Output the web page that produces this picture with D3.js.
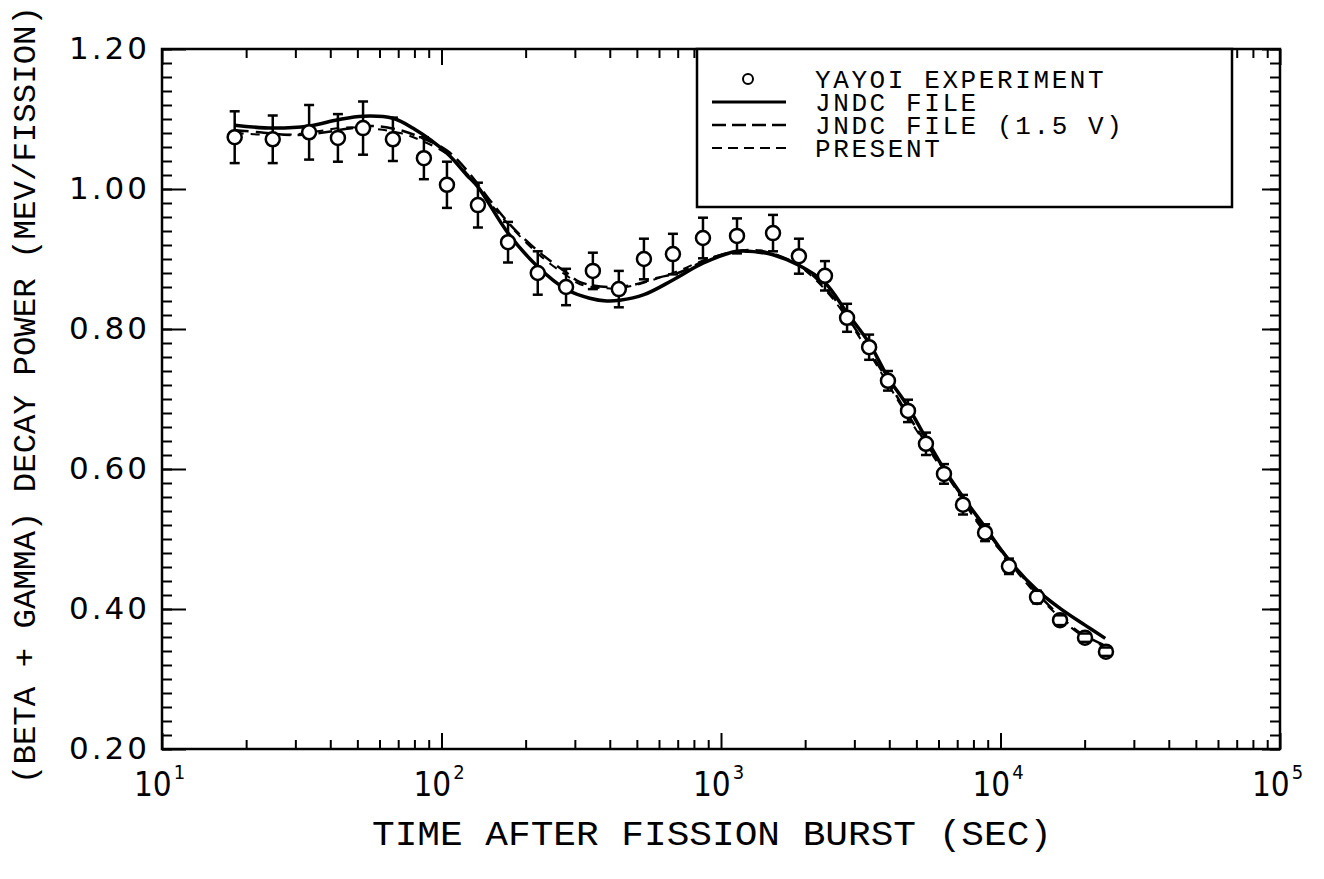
<!DOCTYPE html>
<html>
<head>
<meta charset="utf-8">
<script src="https://cdn.jsdelivr.net/npm/d3@7"></script>
<style>
  body { margin: 0; background: #fff; }
  text { fill: #000; }
</style>
</head>
<body>
<div id="chart"></div>
<script>
// YAYOI experiment points (time in sec, MeV/fission, error)
const expTime = [18.2, 24.9, 33.6, 42.6, 52.4, 67.0, 86.5, 104.6, 135, 173,
  221, 279, 348, 431, 530, 673, 862, 1141, 1535, 1900,
  2355, 2825, 3388, 3957, 4667, 5411, 6277, 7342, 8806, 10720,
  13510, 16330, 20060, 23840];
const expValue = [1.074, 1.071, 1.081, 1.073, 1.087, 1.071, 1.044, 1.006, 0.977, 0.924,
  0.880, 0.860, 0.883, 0.857, 0.900, 0.907, 0.930, 0.933, 0.937, 0.904,
  0.876, 0.816, 0.774, 0.726, 0.683, 0.636, 0.593, 0.549, 0.509, 0.461,
  0.417, 0.384, 0.359, 0.339];
const expError = [0.037, 0.034, 0.039, 0.034, 0.038, 0.031, 0.030, 0.033, 0.032, 0.029,
  0.031, 0.026, 0.026, 0.026, 0.029, 0.029, 0.029, 0.025, 0.026, 0.025,
  0.021, 0.020, 0.018, 0.014, 0.016, 0.016, 0.014, 0.014, 0.012, 0.011,
  0.009, 0.007, 0.006, 0.006];

// JNDC FILE (solid)
const jndcTime = [18.2, 24.9, 33.6, 42.6, 52.4, 67.0, 78.9, 104.6, 123, 135,
  173, 221, 281, 339, 390, 434, 530, 673, 862, 1141,
  1346, 1535, 1900, 2355, 2825, 3388, 3957, 4667, 5411, 6277,
  7342, 8806, 10720, 13510, 16330, 20060, 23700];
const jndcValue = [1.091, 1.087, 1.090, 1.099, 1.104, 1.101, 1.087, 1.051, 1.020, 1.003,
  0.937, 0.889, 0.856, 0.844, 0.840, 0.841, 0.849, 0.870, 0.894, 0.911,
  0.910, 0.906, 0.891, 0.866, 0.823, 0.780, 0.731, 0.689, 0.644, 0.600,
  0.560, 0.517, 0.470, 0.427, 0.401, 0.377, 0.358];

// JNDC FILE (1.5 V) and PRESENT (dashed)
const dashedTime = [18.2, 22.4, 29.4, 36.7, 45.9, 56.9, 71.1, 83.8, 104.6, 126,
  149, 179, 225, 281, 313, 401, 484, 590, 713, 891,
  1104, 1379, 1811, 2081, 2515, 3142, 3802, 4627, 5728, 6982,
  8240, 9956, 12740, 15920, 19240, 23280];
const jndc15Value = [1.084, 1.081, 1.077, 1.080, 1.086, 1.090, 1.084, 1.074, 1.055, 1.022,
  0.984, 0.946, 0.909, 0.880, 0.867, 0.860, 0.863, 0.873, 0.881, 0.899,
  0.910, 0.912, 0.896, 0.880, 0.846, 0.790, 0.737, 0.680, 0.622, 0.572,
  0.527, 0.487, 0.434, 0.394, 0.366, 0.349];
const presentValue = [1.080, 1.078, 1.078, 1.083, 1.088, 1.086, 1.080, 1.070, 1.050, 1.018,
  0.980, 0.944, 0.905, 0.876, 0.864, 0.858, 0.862, 0.872, 0.884, 0.900,
  0.909, 0.910, 0.895, 0.878, 0.843, 0.787, 0.733, 0.677, 0.619, 0.569,
  0.524, 0.484, 0.431, 0.392, 0.364, 0.347];

const yTicks = [0.20, 0.40, 0.60, 0.80, 1.00, 1.20];
const xDecades = [10, 100, 1000, 10000, 100000];
const legendLabels = ["YAYOI EXPERIMENT", "JNDC FILE", "JNDC FILE (1.5 V)", "PRESENT"];

const width = 1324, height = 879;
const pLeft = 162, pRight = 1280, pTop = 49, pBottom = 749;
const monoFont = "'Liberation Mono', 'DejaVu Sans Mono', monospace";

const x = d3.scaleLog().domain([10, 100000]).range([pLeft, pRight]);
const y = d3.scaleLinear().domain([0.2, 1.2]).range([pBottom, pTop]);

const svg = d3.select("#chart").append("svg")
  .attr("width", width)
  .attr("height", height);

// minor ticks
let xMinor = [];
xDecades.slice(0, -1).forEach(d => { for (let k = 2; k <= 9; k++) xMinor.push(d * k); });
let yMinor = d3.range(0.2, 1.2001, 0.02).map(v => +v.toFixed(2));

function styleAxis(g) {
  g.select(".domain").remove();
  g.selectAll(".tick line").attr("stroke", "#000").attr("stroke-width", 2);
}

// bottom
svg.append("g").attr("transform", `translate(0,${pBottom})`)
  .call(d3.axisBottom(x).tickValues(xMinor).tickSize(-9).tickFormat("")).call(styleAxis);
let xAxisG = svg.append("g").attr("transform", `translate(0,${pBottom})`)
  .call(d3.axisBottom(x).tickValues(xDecades).tickSize(-16).tickPadding(22).tickFormat(() => "10"))
  .call(styleAxis);
xAxisG.selectAll(".tick text")
  .attr("font-family", "'Liberation Sans Narrow', 'DejaVu Sans Condensed', sans-serif")
  .attr("font-size", 33)
  .attr("dy", "0.75em")
  .attr("text-anchor", "middle")
  .attr("dx", -3)
  .append("tspan")
  .attr("dy", -17)
  .attr("dx", 2)
  .attr("font-size", 20)
  .text(d => Math.round(Math.log10(d)));

// top
svg.append("g").attr("transform", `translate(0,${pTop})`)
  .call(d3.axisTop(x).tickValues(xMinor).tickSize(-9).tickFormat("")).call(styleAxis);
svg.append("g").attr("transform", `translate(0,${pTop})`)
  .call(d3.axisTop(x).tickValues(xDecades).tickSize(-16).tickFormat("")).call(styleAxis);

// left
svg.append("g").attr("transform", `translate(${pLeft},0)`)
  .call(d3.axisLeft(y).tickValues(yMinor).tickSize(-10).tickFormat("")).call(styleAxis);
let yAxisG = svg.append("g").attr("transform", `translate(${pLeft},0)`)
  .call(d3.axisLeft(y).tickValues(yTicks).tickSize(-24).tickPadding(12).tickFormat(d3.format(".2f")))
  .call(styleAxis);
yAxisG.selectAll(".tick text")
  .attr("font-family", "'DejaVu Sans', sans-serif")
  .attr("font-size", 31)
  .attr("letter-spacing", 3);

// right
svg.append("g").attr("transform", `translate(${pRight},0)`)
  .call(d3.axisRight(y).tickValues(yMinor).tickSize(-10).tickFormat("")).call(styleAxis);
svg.append("g").attr("transform", `translate(${pRight},0)`)
  .call(d3.axisRight(y).tickValues(yTicks).tickSize(-18).tickFormat("")).call(styleAxis);

// frame
svg.append("rect")
  .attr("x", pLeft).attr("y", pTop)
  .attr("width", pRight - pLeft).attr("height", pBottom - pTop)
  .attr("fill", "none").attr("stroke", "#000").attr("stroke-width", 2.5);

// curves
const line = d3.line()
  .x(d => x(d[0]))
  .y(d => y(d[1]))
  .curve(d3.curveCatmullRom);

svg.append("path")
  .datum(d3.zip(dashedTime, presentValue))
  .attr("d", line)
  .attr("fill", "none").attr("stroke", "#000").attr("stroke-width", 2)
  .attr("stroke-dasharray", "9,7");

svg.append("path")
  .datum(d3.zip(dashedTime, jndc15Value))
  .attr("d", line)
  .attr("fill", "none").attr("stroke", "#000").attr("stroke-width", 2.5)
  .attr("stroke-dasharray", "14,7");

svg.append("path")
  .datum(d3.zip(jndcTime, jndcValue))
  .attr("d", line)
  .attr("fill", "none").attr("stroke", "#000").attr("stroke-width", 3.5);

// experiment points
const pts = d3.range(expTime.length).map(i => ({ t: expTime[i], v: expValue[i], e: expError[i] }));

svg.append("g").selectAll("line")
  .data(pts).enter().append("line")
  .attr("x1", d => x(d.t)).attr("x2", d => x(d.t))
  .attr("y1", d => y(d.v - d.e)).attr("y2", d => y(d.v + d.e))
  .attr("stroke", "#000").attr("stroke-width", 2.5);

svg.append("g").selectAll("circle")
  .data(pts).enter().append("circle")
  .attr("cx", d => x(d.t)).attr("cy", d => y(d.v))
  .attr("r", 7)
  .attr("fill", "#fff").attr("stroke", "#000").attr("stroke-width", 2.5);

let caps = svg.append("g");
[1, -1].forEach(s => {
  caps.selectAll(null)
    .data(pts).enter().append("line")
    .attr("x1", d => x(d.t) - 5).attr("x2", d => x(d.t) + 5)
    .attr("y1", d => y(d.v + s * d.e)).attr("y2", d => y(d.v + s * d.e))
    .attr("stroke", "#000").attr("stroke-width", 2.5);
});

// legend
const legend = svg.append("g");
legend.append("rect")
  .attr("x", 697).attr("y", pTop)
  .attr("width", 535).attr("height", 158)
  .attr("fill", "#fff").attr("stroke", "#000").attr("stroke-width", 2.5);

const rowY = [79, 102, 125, 148];
legend.selectAll("text")
  .data(legendLabels).enter().append("text")
  .attr("x", 815).attr("y", (d, i) => rowY[i])
  .attr("dy", "0.35em")
  .attr("font-family", monoFont)
  .attr("font-size", 26)
  .attr("letter-spacing", 2.6)
  .text(d => d);

legend.append("circle")
  .attr("cx", 748).attr("cy", rowY[0]).attr("r", 5)
  .attr("fill", "#fff").attr("stroke", "#000").attr("stroke-width", 2);
legend.append("line")
  .attr("x1", 712).attr("x2", 786).attr("y1", rowY[1]).attr("y2", rowY[1])
  .attr("stroke", "#000").attr("stroke-width", 3);
legend.append("line")
  .attr("x1", 712).attr("x2", 786).attr("y1", rowY[2]).attr("y2", rowY[2])
  .attr("stroke", "#000").attr("stroke-width", 2.5).attr("stroke-dasharray", "14,6");
legend.append("line")
  .attr("x1", 712).attr("x2", 786).attr("y1", rowY[3]).attr("y2", rowY[3])
  .attr("stroke", "#000").attr("stroke-width", 2).attr("stroke-dasharray", "10,6");

// axis titles
svg.append("text")
  .attr("x", 712).attr("y", 845)
  .attr("text-anchor", "middle")
  .attr("font-family", monoFont)
  .attr("font-size", 35)
  .attr("textLength", 680)
  .attr("lengthAdjust", "spacingAndGlyphs")
  .text("TIME AFTER FISSION BURST  (SEC)");

svg.append("text")
  .attr("transform", "translate(35,395) rotate(-90)")
  .attr("text-anchor", "middle")
  .attr("font-family", monoFont)
  .attr("font-size", 31)
  .attr("textLength", 778)
  .attr("lengthAdjust", "spacingAndGlyphs")
  .text("(BETA + GAMMA) DECAY POWER (MEV/FISSION)");
</script>
</body>
</html>
